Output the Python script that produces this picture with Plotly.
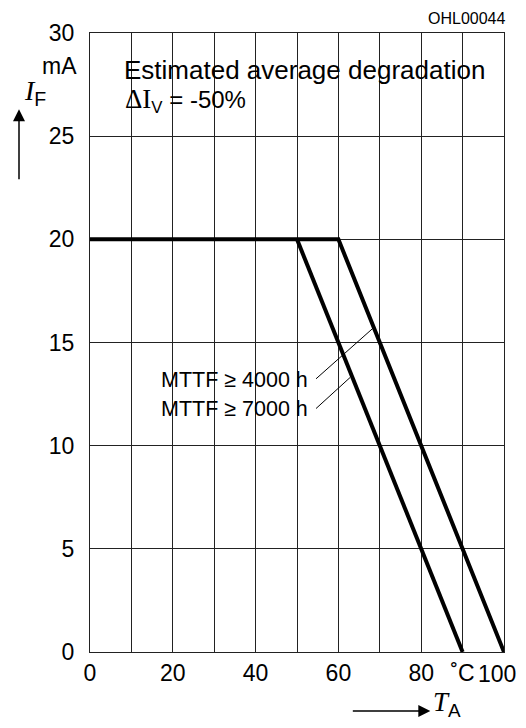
import plotly.graph_objects as go

# Data
mttf4000_x = [0, 60, 100]
mttf4000_y = [20, 20, 0]
mttf7000_x = [50, 90]
mttf7000_y = [20, 0]

x_tickvals = [0, 20, 40, 60, 80, 90]
x_ticktext = ["0", "20", "40", "60", "80", "˚C"]
x_last_label = "100"
x_minor_grid = [10, 30, 50, 70]
y_tickvals = [0, 5, 10, 15, 20, 25, 30]
y_ticktext = ["0", "5", "10", "15", "20", "25", "30"]

# leader lines from labels to curves (data coords)
leader4000 = ([54.6, 68.4], [13.24, 15.7])
leader7000 = ([54.6, 62.8], [11.8, 13.3])

SANS = "Liberation Sans, Arial, sans-serif"
SERIF = "Liberation Serif"

fig = go.Figure()
fig.add_trace(go.Scatter(x=mttf4000_x, y=mttf4000_y, mode="lines",
                         line=dict(color="black", width=4), showlegend=False))
fig.add_trace(go.Scatter(x=mttf7000_x, y=mttf7000_y, mode="lines",
                         line=dict(color="black", width=4), showlegend=False))
for lx, ly in (leader4000, leader7000):
    fig.add_trace(go.Scatter(x=lx, y=ly, mode="lines",
                             line=dict(color="black", width=1), showlegend=False))

GRID = "#222"
fig.update_layout(
    width=510, height=712,
    margin=dict(l=82, r=14, t=23, b=68),
    paper_bgcolor="white", plot_bgcolor="white",
    font=dict(family=SANS, size=22, color="black"),
    xaxis=dict(range=[0, 100], tickvals=x_tickvals, ticktext=x_ticktext,
               showgrid=True, gridcolor=GRID, gridwidth=1,
               minor=dict(tickvals=x_minor_grid, showgrid=True, gridcolor=GRID,
                          gridwidth=1, ticks=""),
               showline=True, linecolor=GRID, linewidth=1, mirror=True,
               zeroline=False, ticks="", tickfont=dict(size=23)),
    yaxis=dict(range=[0, 30], tickvals=y_tickvals, ticktext=y_ticktext,
               showgrid=True, gridcolor=GRID, gridwidth=1,
               showline=True, linecolor=GRID, linewidth=1, mirror=True,
               zeroline=False, ticks="", tickfont=dict(size=23),
               ticklabelstandoff=10),
)

ann = []
# last x tick label (kept inside the page edge)
ann.append(dict(x=1.0, y=0, xref="paper", yref="paper", xanchor="right", yanchor="top",
                xshift=14, yshift=-7, text=x_last_label, showarrow=False,
                font=dict(size=23)))
ann.append(dict(x=7.7, y=28.2, xref="x", yref="y", xanchor="left", yanchor="middle",
                text="Estimated average degradation", showarrow=False,
                font=dict(size=26)))
ann.append(dict(x=7.9, y=26.75, xref="x", yref="y", xanchor="left", yanchor="middle",
                text=f"<span style='font-family:{SERIF};font-size:27px'>ΔI</span><sub>V</sub> = -50%",
                showarrow=False, font=dict(size=24)))
ann.append(dict(x=53.1, y=13.2, xref="x", yref="y", xanchor="right", yanchor="middle",
                text="MTTF ≥ 4000 h", showarrow=False, font=dict(size=21.5)))
ann.append(dict(x=53.1, y=11.8, xref="x", yref="y", xanchor="right", yanchor="middle",
                text="MTTF ≥ 7000 h", showarrow=False, font=dict(size=21.5)))
# top-right code
ann.append(dict(x=1.0, y=1.0, xref="paper", yref="paper", xanchor="right", yanchor="bottom",
                yshift=4, xshift=3, text="OHL00044", showarrow=False, font=dict(size=16)))
# unit mA
ann.append(dict(x=0, y=28.4, xref="paper", yref="y", xanchor="right", yanchor="middle",
                xshift=-11, text="mA", showarrow=False, font=dict(size=23)))
# I_F label
ann.append(dict(x=0, y=27.1, xref="paper", yref="y", xanchor="left", yanchor="middle",
                xshift=-68,
                text=f"<span style='font-family:{SERIF}'><i>I</i></span><sub>F</sub>",
                showarrow=False, font=dict(size=28)))
# I_F arrow
ann.append(dict(x=0, y=26.3, xref="paper", yref="y", xshift=-71,
                ax=0, ay=84, text=" ", showarrow=True,
                arrowhead=2, arrowsize=1.6, arrowwidth=1.5, arrowcolor="black"))
# T_A arrow
ann.append(dict(x=82.2, y=0, xref="x", yref="paper", yshift=-59,
                ax=-82, ay=0, text=" ", showarrow=True,
                arrowhead=2, arrowsize=1.6, arrowwidth=1.5, arrowcolor="black"))
ann.append(dict(x=82.3, y=0, xref="x", yref="paper", xanchor="left", yanchor="middle",
                yshift=-52,
                text=f"<span style='font-family:{SERIF}'><i>T</i></span><sub>A</sub>",
                showarrow=False, font=dict(size=27)))
fig.update_layout(annotations=ann)

fig.write_html("out.html")
